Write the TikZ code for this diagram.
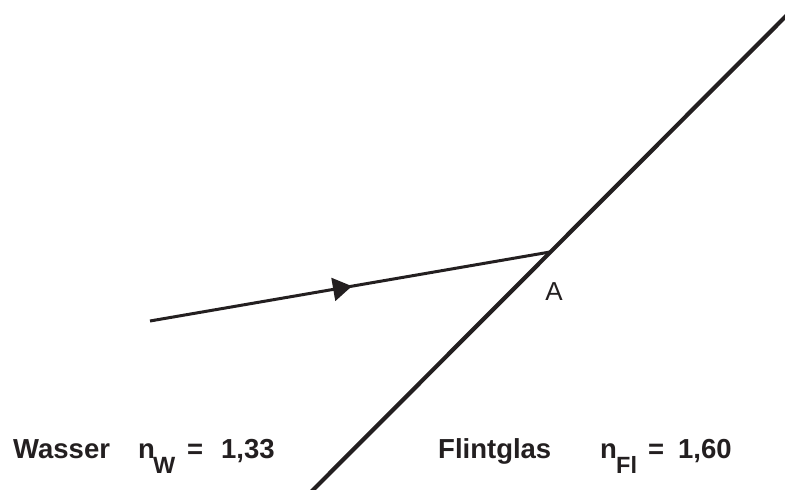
\documentclass[tikz,border=0pt]{standalone}
\usepackage{fontspec}
\setmainfont{Liberation Sans}
\usetikzlibrary{decorations.markings,arrows.meta}
\definecolor{ink}{HTML}{231F20}
\begin{document}
\begin{tikzpicture}[x=1pt,y=-1pt,
  boundary/.style={draw=ink,line width=4.2pt},
  ray/.style={draw=ink,line width=3pt,
    postaction={decorate,decoration={markings,
      mark=at position 0.505 with {\arrow[ink]{Triangle[length=19pt,width=23pt]}}}}},
  lbl/.style={inner sep=0pt,anchor=base west,text=ink,font=\fontsize{27.5}{32}\selectfont\bfseries},
  sub/.style={inner sep=0pt,anchor=base west,text=ink,font=\fontsize{23.5}{28}\selectfont\bfseries},
  ptlbl/.style={inner sep=0pt,text=ink,font=\fontsize{26}{30}\selectfont}]
\useasboundingbox (0,0) rectangle (785,490);
\coordinate (b1) at (311,492);
\coordinate (b2) at (787,15);
\draw[boundary] (b1) -- (b2);
\coordinate (s) at (150,321);
\coordinate (A) at (550,252);
\draw[ray] (s) -- (A);
\node[ptlbl] (Alabel) at (554,292) {A};
\node[lbl] (wasser) at (13,458) {Wasser};
\node[lbl] (nw) at (138,458) {n};
\node[sub] (w) at (153,473) {W};
\node[lbl] (eqw) at (187,458) {=};
\node[lbl] (vw) at (221,458) {1,33};
\node[lbl] (flint) at (438,458) {Flintglas};
\node[lbl] (nf) at (600,458) {n};
\node[sub] (fl) at (616,473) {Fl};
\node[lbl] (eqf) at (648,458) {=};
\node[lbl] (vf) at (678,458) {1,60};
\end{tikzpicture}
\end{document}
